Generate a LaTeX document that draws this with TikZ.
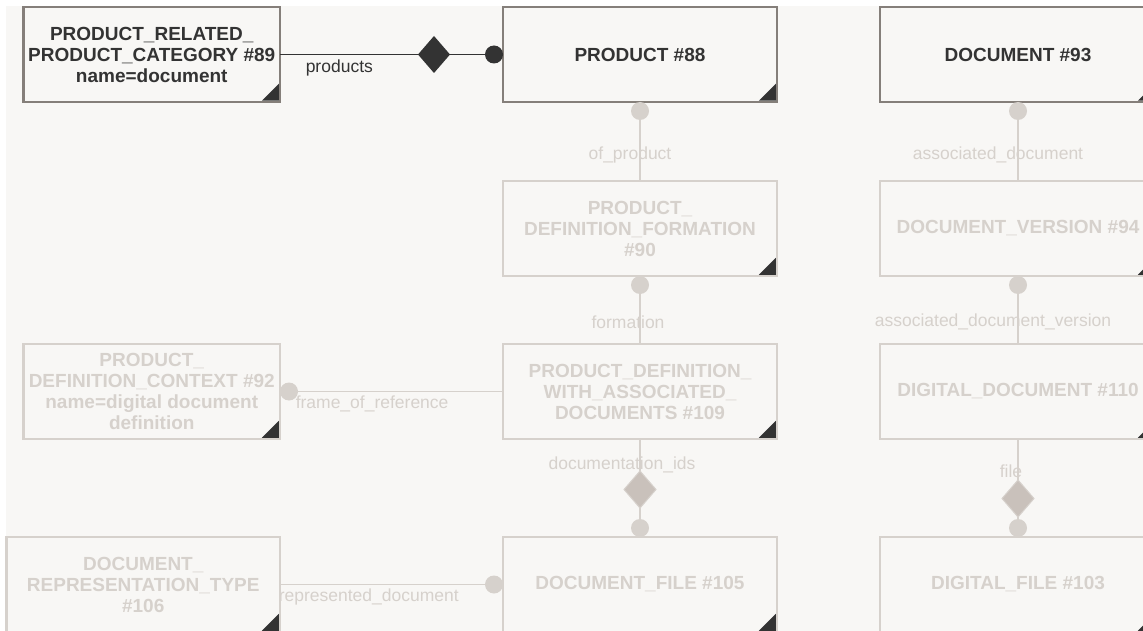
\documentclass[tikz,border=0pt]{standalone}
\usepackage{fontspec}
\setmainfont{Liberation Sans}
\usetikzlibrary{positioning, shapes.geometric}

\definecolor{canvas}{HTML}{F8F7F5}
\definecolor{frame}{HTML}{857F7A}
\definecolor{ink}{HTML}{333333}
\definecolor{pale}{HTML}{D6D1CC}
\definecolor{palefill}{HTML}{C9C1BB}

\tikzset{
  entity/.style={rectangle, draw=frame, line width=2.5pt, fill=canvas, text=ink,
    font=\fontsize{19}{21}\selectfont\bfseries, align=center,
    minimum width=274pt, minimum height=95pt, inner sep=0pt, outer sep=0pt},
  faded/.style={draw=pale, text=pale},
  rel/.style={line width=1.5pt, color=ink},
  dimrel/.style={line width=1.5pt, color=pale},
  lbl/.style={font=\fontsize{17.5}{20}\selectfont, inner sep=0pt},
  dot/.style={circle, fill=ink, minimum size=18pt, inner sep=0pt, outer sep=0pt},
  dimdot/.style={dot, fill=pale},
  agg/.style={diamond, fill=ink, minimum width=32pt, minimum height=37pt, inner sep=0pt, outer sep=0pt},
  dimagg/.style={agg, fill=palefill, draw=pale, line width=1pt},
}

\begin{document}
\begin{tikzpicture}[x=1pt, y=1pt]
  \clip (0,0) rectangle (1143,-631);
  \fill[white] (0,0) rectangle (1143,-631);
  \fill[canvas] (6,-6) rectangle (1143,-631);

  % entidades
  \node [entity, minimum width=256.5pt] (prc) at (151.75,-54.5) {PRODUCT\_RELATED\_\\PRODUCT\_CATEGORY \#89\\name=document};
  \node [entity] (prod) [right=223pt of prc] {PRODUCT \#88};
  \node [entity, minimum width=276pt] (doc) [right=103pt of prod] {DOCUMENT \#93};
  \node [entity, faded] (pdf) [below=79pt of prod] {PRODUCT\_\\DEFINITION\_FORMATION\\\#90};
  \node [entity, faded, minimum width=276pt] (docver) [below=79pt of doc] {DOCUMENT\_VERSION \#94};
  \node [entity, faded] (pdwad) [below=68pt of pdf] {PRODUCT\_DEFINITION\_\\WITH\_ASSOCIATED\_\\DOCUMENTS \#109};
  \node [entity, faded, minimum width=276pt] (digdoc) [below=68pt of docver] {DIGITAL\_DOCUMENT \#110};
  \node [entity, faded, minimum width=256.5pt] (pdc) [left=223pt of pdwad] {PRODUCT\_\\DEFINITION\_CONTEXT \#92\\name=digital document\\definition};
  \node [entity, faded] (docfile) [below=98pt of pdwad] {DOCUMENT\_FILE \#105};
  \node [entity, faded, minimum width=276pt] (digfile) [below=98pt of digdoc] {DIGITAL\_FILE \#103};
  \node [entity, faded, minimum width=273.5pt] (doctype) [left=223pt of docfile] {DOCUMENT\_\\REPRESENTATION\_TYPE\\\#106};

  % esquinas
  \foreach \n in {prc, prod, doc, pdf, docver, pdwad, digdoc, pdc, docfile, digfile, doctype}
    \fill[ink] ([shift={(-1.25,1.25)}]\n.south east) -- ++(-17,0) -- ++(17,17) -- cycle;

  % marcas
  \node [dot] (prodend) [left=0pt of prod] {};
  \node [agg] (prodagg) [left=35pt of prodend] {};
  \node [dimdot] (prodout) [below=0pt of prod] {};
  \node [dimdot] (docout) [below=0pt of doc] {};
  \node [dimdot] (pdfout) [below=0pt of pdf] {};
  \node [dimdot] (docverout) [below=0pt of docver] {};
  \node [dimdot] (pdcend) [right=0pt of pdc] {};
  \node [dimdot] (docfileend) [above=0pt of docfile] {};
  \node [dimagg] (docfileagg) [above=11pt of docfileend] {};
  \node [dimdot] (digfileend) [above=0pt of digfile] {};
  \node [dimagg] (digfileagg) [above=2pt of digfileend] {};
  \node [dimdot] (docfileleft) [left=0pt of docfile] {};

  % relaciones
  \path[rel]
  (prc) edge node [lbl, pos=0, anchor=west, xshift=25pt, yshift=-13pt] {products} (prodagg)
  (prodagg) edge (prodend);
  \path[dimrel]
  (prod) edge node [lbl, pos=.67, xshift=-10pt] {of\_product} (pdf)
  (doc) edge node [lbl, pos=.67, xshift=-20pt] {associated\_document} (docver)
  (pdf) edge node [lbl, pos=.68, xshift=-12pt] {formation} (pdwad)
  (docver) edge node [lbl, pos=.68, xshift=-25pt] {associated\_document\_version} (digdoc)
  (pdc) edge node [lbl, pos=0, anchor=west, xshift=15pt, yshift=-12pt] {frame\_of\_reference} (pdwad)
  (pdwad) edge node [lbl, pos=.82, xshift=-18pt] {documentation\_ids} (docfileagg)
  (docfileagg) edge (docfileend)
  (digdoc) edge node [lbl, pos=.78, xshift=-7pt] {file} (digfileagg)
  (digfileagg) edge (digfileend)
  (doctype) edge node [lbl, pos=0, anchor=west, xshift=-2pt, yshift=-12pt] {represented\_document} (docfile);
\end{tikzpicture}
\end{document}
